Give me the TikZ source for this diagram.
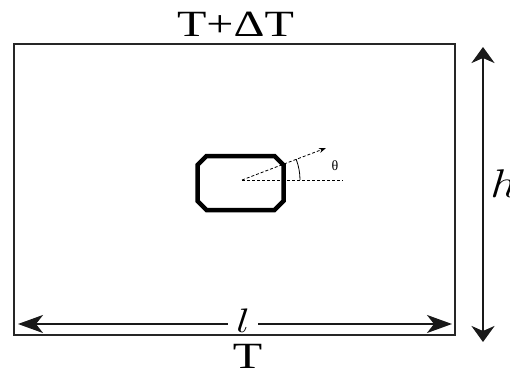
\RequirePackage{fix-cm}
\documentclass[tikz,border=0pt]{standalone}
\usepackage{fontspec}
\setmainfont{Liberation Serif}
\usetikzlibrary{arrows.meta}
\tikzset{
  plate/.style={draw=black!85, line width=2pt},
  dimline/.style={line width=2pt, black!90},
  htip/.tip={Stealth[length=25pt,width=18pt,inset=7pt]},
  vtip/.tip={Stealth[length=16pt,width=23pt,inset=5pt]},
  obst/.style={line width=4.5pt, line join=miter},
  thin dash/.style={line width=0.8pt, dash pattern=on 3pt off 2pt},
  bigtext/.style={font=\fontsize{37}{40}\selectfont, xscale=1.3, inner sep=0pt},
}
\begin{document}
\begin{tikzpicture}[x=1pt,y=-1pt]
\useasboundingbox (0,0) rectangle (510,374);
% plate
\draw[plate] (14,44) rectangle (455,335);
% labels
\node[bigtext, anchor=base] (top) at (235.5,37) {T+ΔT};
\node[bigtext, anchor=base] (bot) at (247.5,368) {T};
% horizontal dimension
\coordinate (lL) at (18,324);
\coordinate (lR) at (452,324);
\draw[dimline, htip-htip] (lL) -- (lR);
\node[font=\fontsize{34}{40}\selectfont, xscale=1.3, fill=white, inner xsep=6pt, inner ysep=0pt, anchor=base] (l) at (243,332) {$l$};
% vertical dimension
\coordinate (hT) at (483,47);
\coordinate (hB) at (483,342);
\draw[dimline, line width=2.5pt, vtip-vtip] (hT) -- (hB);
\node[font=\fontsize{40}{44}\selectfont, xscale=1.2, inner sep=0pt, anchor=base west] (h) at (490,197) {$h$};
% obstacle
\draw[obst] (206.5,156) -- (274.5,156) -- (283.5,165) -- (283.5,201) -- (274.5,210) -- (206.5,210) -- (197.5,201) -- (197.5,165) -- cycle;
% angle
\coordinate (c) at (242,180);
\coordinate (ref) at (343,180);
\coordinate (dir) at (326,148);
\draw[thin dash] (c) -- (ref);
\draw[thin dash, -{Stealth[length=7pt,width=5pt]}] (c) -- (dir);
\draw[line width=0.8pt] (300,180) arc[start angle=0, end angle=-21, radius=58];
\node[font=\fontsize{14}{15}\selectfont, inner sep=0pt] (theta) at (335,166) {θ};
\end{tikzpicture}
\end{document}
